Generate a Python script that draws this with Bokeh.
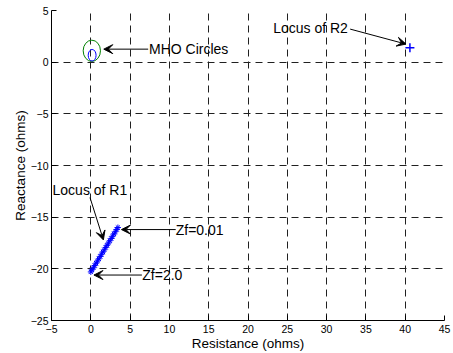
from bokeh.plotting import figure
from bokeh.models import Arrow, VeeHead, ColumnDataSource, FixedTicker, Range1d
from bokeh.core.properties import value
from bokeh.embed import file_html
from bokeh.resources import INLINE

# Locus of R1 (Zf from 0.01 down to 2.0)
r1_x = [0.0, 0.15, 0.33, 0.5, 0.68, 0.85, 1.02, 1.2, 1.37, 1.55, 1.72,
        1.9, 2.07, 2.25, 2.42, 2.6, 2.77, 2.95, 3.12, 3.3, 3.45]
r1_y = [-20.3, -20.1, -19.9, -19.68, -19.45, -19.24, -19.03, -18.8, -18.59, -18.37, -18.16,
        -17.93, -17.72, -17.5, -17.28, -17.06, -16.85, -16.62, -16.41, -16.19, -16.0]
# Locus of R2
r2_x = [40.6]
r2_y = [1.4]
# MHO circles: centre and diameters
mho_x = [0.13, 0.17]
mho_y = [1.1, 0.67]
mho_w = [2.2, 1.0]
mho_h = [2.05, 1.12]
mho_color = ["#008000", "#0000ff"]

# Annotations
ann_text = ["MHO Circles", "Locus of R2", "Locus of R1", "Zf=0.01", "Zf=2.0"]
ann_x = [7.4, 23.2, -4.87, 10.8, 6.55]
ann_y = [1.26, 3.3, -12.4, -16.2, -20.6]
arr_x0 = [7.3, 33.0, -0.1, 10.8, 6.5]
arr_y0 = [1.26, 3.2, -13.1, -16.2, -20.6]
arr_x1 = [1.65, 40.1, 1.6, 3.9, 0.4]
arr_y1 = [1.26, 1.75, -17.2, -16.2, -20.6]

x_ticks = [-5, 0, 5, 10, 15, 20, 25, 30, 35, 40, 45]
y_ticks = [-25, -20, -15, -10, -5, 0, 5]

p = figure(width=453, height=353, output_backend="svg", toolbar_location=None,
           x_range=Range1d(-5, 45), y_range=Range1d(-25, 5),
           min_border_left=51, min_border_right=9, min_border_top=10, min_border_bottom=33)
p.outline_line_color = None
p.background_fill_color = "white"
p.border_fill_color = "white"

for ax in (p.xaxis[0], p.yaxis[0]):
    ax.axis_line_color = "black"
    ax.major_tick_line_color = "black"
    ax.major_tick_in = 5
    ax.major_tick_out = 0
    ax.minor_tick_line_color = None
    ax.major_label_text_font = "Liberation Sans"
    ax.major_label_text_font_size = "10.5px"
    ax.major_label_text_color = "black"
    ax.axis_label_text_font = "Liberation Sans"
    ax.axis_label_text_font_size = "13.5px"
    ax.axis_label_text_font_style = "normal"
    ax.axis_label_text_color = "black"
    ax.major_label_standoff = 3
    ax.axis_label_standoff = 0
p.xaxis[0].major_label_standoff = 4

p.xaxis.ticker = FixedTicker(ticks=x_ticks)
p.yaxis.ticker = FixedTicker(ticks=y_ticks)
p.xaxis.axis_label = "Resistance (ohms)"
p.yaxis.axis_label = "Reactance (ohms)"

for g in (p.xgrid[0], p.ygrid[0]):
    g.grid_line_color = "#202020"
    g.grid_line_dash = "7 5"
    g.grid_line_width = 1

p.ellipse(x=mho_x, y=mho_y, width=mho_w, height=mho_h, fill_color=None,
          line_color=mho_color, line_width=1)

p.line(r1_x, r1_y, line_color="#0000ff", line_width=1)
p.scatter(r1_x, r1_y, marker="asterisk", size=6, line_color="#0000ff", line_width=1)
p.scatter(r2_x, r2_y, marker="cross", size=9, line_color="#0000ff", line_width=1.5)

src = ColumnDataSource(dict(x0=arr_x0, y0=arr_y0, x1=arr_x1, y1=arr_y1))
p.add_layout(Arrow(x_start="x0", y_start="y0", x_end="x1", y_end="y1", source=src,
                   line_color="black", line_width=1,
                   end=VeeHead(size=9, fill_color="black", line_color="black")))

p.text(x=ann_x, y=ann_y, text=ann_text, text_font=value("Liberation Sans"),
       text_font_size="14px", text_baseline="middle", text_align="left", text_color="black")

open("out.html", "w").write(file_html(p, INLINE))
